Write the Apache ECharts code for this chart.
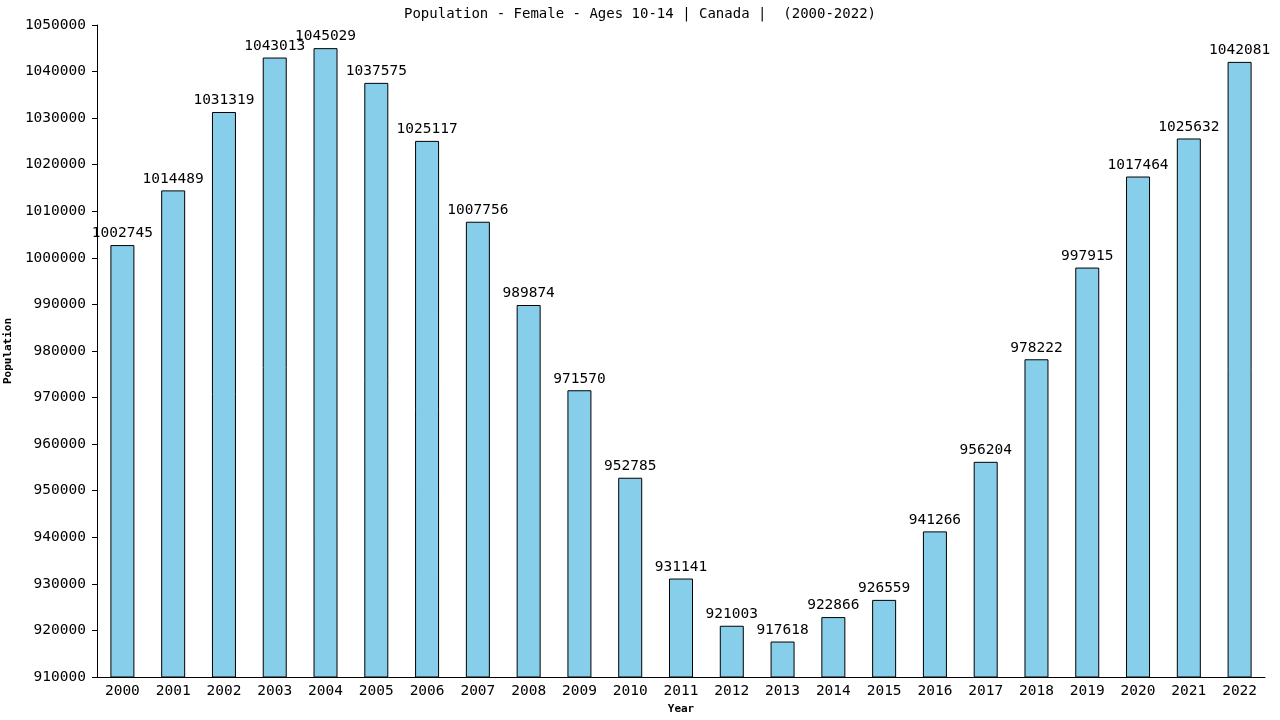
<!DOCTYPE html>
<html>
<head>
<meta charset="utf-8">
<script src="https://cdn.jsdelivr.net/npm/echarts@6/dist/echarts.min.js"></script>
<style>
  html, body { margin: 0; padding: 0; background: #fff; }
  #chart { width: 1280px; height: 720px; }
</style>
</head>
<body>
<div id="chart"></div>
<script>
// data
var years = ['2000', '2001', '2002', '2003', '2004', '2005', '2006', '2007', '2008', '2009', '2010', '2011',
  '2012', '2013', '2014', '2015', '2016', '2017', '2018', '2019', '2020', '2021', '2022'];
var population = [1002745, 1014489, 1031319, 1043013, 1045029, 1037575, 1025117, 1007756, 989874, 971570,
  952785, 931141, 921003, 917618, 922866, 926559, 941266, 956204, 978222, 997915, 1017464, 1025632, 1042081];

var font = '"DejaVu Sans Mono", monospace';

var myChart = echarts.init(document.getElementById('chart'));
var option = {
  animation: false,
  title: {
    text: 'Population - Female - Ages 10-14 | Canada |  (2000-2022)',
    left: 'center',
    top: 2,
    textStyle: { fontFamily: font, fontSize: 14, fontWeight: 'normal', color: '#000' }
  },
  grid: { left: 97, right: 15, top: 25, bottom: 43, containLabel: false, outerBoundsMode: 'none' },
  xAxis: {
    type: 'category',
    data: years,
    name: 'Year',
    nameLocation: 'middle',
    nameGap: 27,
    nameTextStyle: { fontFamily: font, fontSize: 11, fontWeight: 'bold', color: '#000' },
    axisLine: { lineStyle: { color: '#000', width: 1 } },
    axisTick: { show: false },
    axisLabel: { fontFamily: font, fontSize: 14.5, color: '#000', margin: 7 }
  },
  yAxis: {
    type: 'value',
    min: 910000,
    max: 1050000,
    interval: 10000,
    name: 'Population',
    nameLocation: 'middle',
    nameGap: 82,
    nameTextStyle: { fontFamily: font, fontSize: 11, fontWeight: 'bold', color: '#000' },
    axisLine: { show: true, lineStyle: { color: '#000', width: 1 } },
    axisTick: { show: true, length: 5, lineStyle: { color: '#000' } },
    splitLine: { show: false },
    axisLabel: { fontFamily: font, fontSize: 14.5, color: '#000', margin: 11,
      formatter: function (v) { return String(v); } }
  },
  series: [{
    type: 'bar',
    data: population,
    barWidth: 24,
    itemStyle: { color: '#87ceeb', borderColor: '#000', borderWidth: 1 },
    label: {
      show: true,
      position: 'top',
      distance: 4,
      fontFamily: font,
      fontSize: 14.5,
      color: '#000'
    }
  }]
};
option && myChart.setOption(option);
</script>
</body>
</html>
